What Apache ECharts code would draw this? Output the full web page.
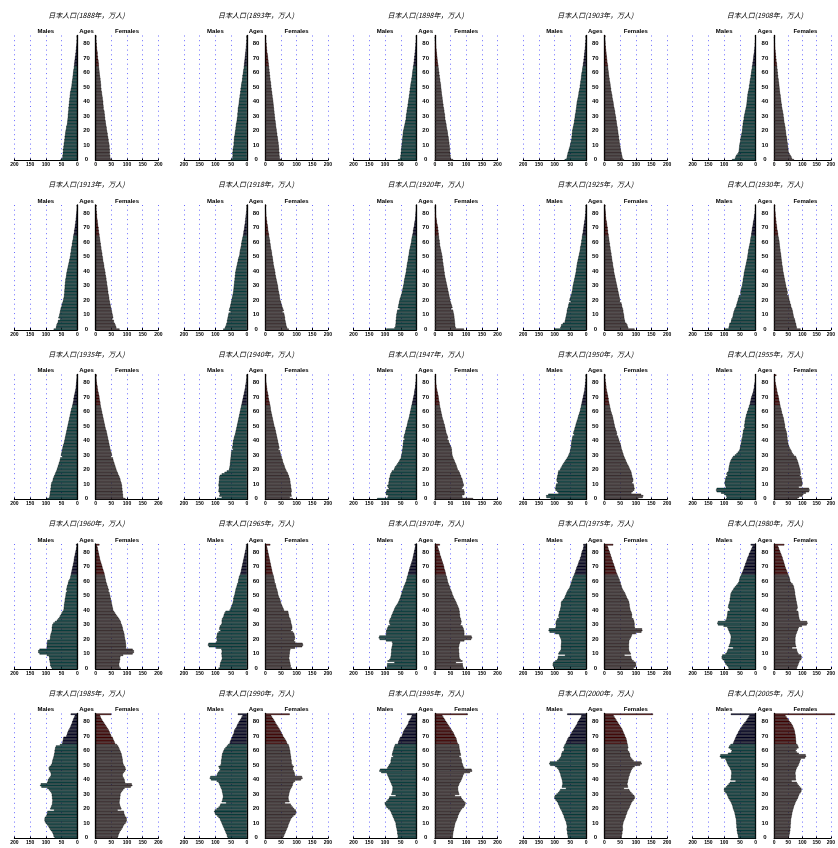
<!DOCTYPE html>
<html><head><meta charset="utf-8">
<script src="https://cdn.jsdelivr.net/npm/echarts@6/dist/echarts.min.js"></script>
<style>html,body{margin:0;padding:0;background:#fff;overflow:hidden}#c{width:838px;height:848px}</style>
</head><body><div id="c"></div><script>
const years = [1888,1893,1898,1903,1908,1913,1918,1920,1925,1930,1935,1940,1947,1950,1955,1960,1965,1970,1975,1980,1985,1990,1995,2000,2005];
const ageLabels = ['0','1','2','3','4','5','6','7','8','9','10','11','12','13','14','15','16','17','18','19','20','21','22','23','24','25','26','27','28','29','30','31','32','33','34','35','36','37','38','39','40','41','42','43','44','45','46','47','48','49','50','51','52','53','54','55','56','57','58','59','60','61','62','63','64','65','66','67','68','69','70','71','72','73','74','75','76','77','78','79','80','81','82','83','84','85'];
const xTicks = [0,50,100,150,200];

const m1888 = [53,48,47,47,46,46,45,46,44,44, 43,43,42,41,41,40,40,39,38,38, 37,36,35,35,33,32,32,31,31,30, 30,30,29,29,28,28,28,27,27,26, 26,25,25,24,24,23,23,22,21,20, 19,18,18,17,17,16,15,15,14,14, 13,13,12,11,11,10,10,9,9,8, 8,7,6,6,5,5,4,4,3,3, 2,2,2,1,1,2];
const f1888 = [52,47,46,46,45,45,45,45,44,44, 44,43,42,41,41,40,39,38,38,37, 36,35,35,34,33,32,32,31,30,30, 29,29,28,28,27,25,25,25,24,24, 24,23,22,22,21,20,20,19,18,18, 17,17,17,16,16,15,15,14,13,13, 12,12,11,11,10,10,10,9,9,8, 7,7,6,6,6,5,4,4,3,3, 3,2,2,1,1,2];
const m1893 = [51,46,46,45,46,46,45,45,44,43, 42,42,42,41,41,41,40,39,38,38, 37,36,36,35,35,34,33,32,32,31, 30,30,30,29,29,29,28,27,26,26, 25,25,24,23,23,22,21,21,20,20, 19,18,18,17,16,15,15,14,14,13, 12,12,11,10,10,9,9,8,8,7, 7,6,6,5,5,4,4,3,3,3, 2,2,2,1,1,2];
const f1893 = [52,46,46,45,45,45,44,44,44,43, 43,42,42,41,40,40,39,38,38,37, 36,36,35,34,34,33,33,32,31,31, 30,30,29,29,28,28,27,27,26,26, 25,25,24,23,23,22,22,21,20,20, 19,19,18,18,17,16,16,15,15,14, 14,13,13,12,12,11,11,10,10,9, 9,8,8,7,6,6,5,5,4,4, 4,3,3,2,2,3];
const m1898 = [59,52,51,51,50,50,49,49,48,48, 47,47,46,46,45,45,44,44,43,43, 42,41,40,39,38,37,36,35,34,34, 33,33,32,31,31,30,29,28,28,27, 26,26,25,24,24,23,22,22,21,21, 20,19,19,18,17,16,16,15,14,14, 13,13,12,11,11,10,9,9,8,8, 7,7,6,6,5,5,4,4,3,3, 3,2,2,1,1,2];
const f1898 = [58,51,50,50,49,49,48,48,48,47, 47,46,46,45,44,44,43,42,41,41, 40,39,38,37,37,36,35,34,33,33, 32,32,31,30,30,29,28,27,27,26, 25,25,24,24,23,22,22,21,21,20, 20,19,19,18,17,17,16,15,15,14, 14,13,12,12,11,11,10,9,9,8, 8,7,7,6,6,5,5,4,4,4, 3,3,2,2,1,3];
const m1903 = [68,62,61,60,59,58,56,55,54,52, 51,50,49,48,47,46,46,45,45,44, 44,43,42,41,40,39,38,38,37,36, 36,35,34,33,33,32,31,31,30,30, 29,28,27,26,25,24,24,23,22,21, 20,20,19,18,18,17,16,16,15,15, 14,13,12,12,11,10,10,9,8,8, 7,7,6,6,5,5,4,4,3,3, 3,2,2,1,1,2];
const f1903 = [62,58,57,56,55,54,53,52,51,51, 50,49,48,48,47,46,46,45,44,44, 43,42,42,41,40,39,39,38,37,37, 36,35,34,34,33,32,31,30,29,29, 28,27,26,25,25,24,23,22,21,21, 20,19,19,18,17,16,16,15,14,14, 13,13,12,12,11,11,10,9,9,8, 8,7,7,6,6,5,5,4,4,3, 3,3,2,2,1,3];
const m1908 = [75,66,64,62,58,55,54,53,53,52, 52,51,50,49,49,48,47,46,45,44, 43,43,42,42,41,41,40,39,38,38, 37,36,35,34,33,32,31,30,29,29, 28,28,27,27,26,26,25,24,23,22, 21,21,20,19,19,18,17,16,16,15, 14,14,13,12,12,11,10,10,9,8, 8,7,7,6,5,5,4,4,3,3, 3,2,2,1,1,2];
const f1908 = [70,63,61,58,55,52,51,50,50,49, 48,48,47,46,46,45,44,43,42,42, 41,40,40,39,38,37,36,35,35,34, 33,33,32,31,30,29,28,27,27,26, 25,25,24,23,23,22,21,20,20,19, 19,18,18,17,16,16,15,14,14,13, 13,12,12,11,11,10,10,9,8,8, 7,7,6,6,5,5,4,4,3,3, 3,2,2,2,1,3];
const m1913 = [75,68,67,66,64,62,61,55,60,58, 57,56,55,54,53,52,50,49,48,46, 45,44,43,42,42,41,41,41,40,40, 40,39,39,38,38,37,36,35,35,34, 33,32,31,30,29,28,27,26,25,24, 23,22,22,21,20,20,19,18,17,17, 16,15,14,13,13,12,11,10,10,9, 8,8,7,6,6,5,5,4,4,3, 3,2,2,1,1,2];
const f1913 = [76,66,65,63,61,58,58,53,56,55, 54,53,52,51,50,49,48,47,46,45, 44,43,43,42,41,40,40,39,38,38, 37,36,36,35,34,34,33,32,31,31, 30,29,28,27,27,26,25,24,23,23, 22,21,21,20,19,18,18,17,16,16, 15,14,14,13,12,12,11,10,10,9, 9,8,7,7,6,6,5,4,4,4, 3,3,2,2,1,3];
const m1918 = [75,70,68,66,65,63,63,62,61,60, 59,58,52,57,56,54,53,52,51,50, 49,48,47,46,45,44,43,43,42,42, 41,41,40,40,39,39,38,38,37,37, 36,35,34,33,32,31,30,29,28,27, 25,24,23,23,22,21,20,19,18,18, 17,16,15,14,13,12,11,11,10,9, 8,8,7,6,6,5,5,4,4,3, 3,2,2,1,1,2];
const f1918 = [75,70,68,67,66,65,64,63,63,62, 61,60,55,59,57,55,54,52,51,50, 48,47,46,46,45,44,43,42,41,41, 40,39,38,37,36,35,34,33,32,32, 31,30,29,28,27,26,26,25,24,24, 23,22,21,21,20,19,18,17,17,16, 15,15,14,13,12,12,11,10,9,9, 8,8,7,6,6,5,4,4,3,3, 3,2,2,1,1,3];
const m1920 = [96,70,67,67,66,66,66,65,65,64, 64,63,62,61,54,59,58,57,56,55, 54,53,51,50,48,47,46,45,44,43, 42,41,40,40,39,38,37,36,35,34, 33,33,32,31,31,30,29,28,27,27, 26,25,24,24,23,22,21,20,19,18, 17,16,16,15,14,13,12,11,11,10, 9,8,7,7,6,5,4,4,3,3, 3,2,2,1,1,2];
const f1920 = [93,67,65,65,64,64,63,63,62,62, 61,60,59,58,52,56,55,53,52,50, 49,48,47,46,45,44,43,42,41,40, 39,38,37,36,35,34,33,32,31,31, 30,29,29,28,27,27,26,25,25,24, 24,23,22,21,20,19,18,17,16,16, 15,15,14,13,13,12,12,11,11,10, 10,9,8,7,6,6,5,4,4,3, 3,3,2,2,1,3];
const m1925 = [100,82,80,79,74,68,67,66,65,64, 63,62,61,61,60,58,57,56,55,49, 53,52,50,49,47,46,45,44,43,43, 42,41,40,39,38,37,36,35,34,33, 32,32,31,30,30,29,28,27,26,25, 24,23,22,21,20,19,19,18,17,16, 15,15,14,13,13,12,11,10,10,9, 8,8,7,6,6,5,4,4,3,3, 2,2,2,1,1,2];
const f1925 = [96,76,74,73,70,66,65,64,63,63, 62,61,60,60,59,57,56,55,54,49, 50,49,48,47,46,45,44,43,42,41, 40,39,38,37,36,35,34,33,32,31, 30,30,29,28,27,27,26,25,24,24, 23,22,22,21,20,19,19,18,17,17, 16,15,15,14,13,13,12,11,11,10, 10,9,8,8,7,6,5,5,4,4, 4,3,3,2,2,3];
const m1930 = [97,86,85,84,83,79,78,77,74,73, 72,71,70,68,67,64,62,61,60,58, 57,56,54,53,47,49,48,47,46,45, 43,43,42,41,41,40,39,38,38,37, 36,35,34,33,32,31,30,29,28,27, 26,26,25,24,24,23,22,21,20,19, 18,17,17,16,15,14,14,13,12,12, 11,10,9,9,8,7,6,5,5,4, 3,3,2,2,1,2];
const f1930 = [93,80,79,78,77,75,74,73,70,69, 68,67,66,65,64,61,60,59,57,56, 54,53,52,51,46,48,47,46,45,43, 42,41,40,39,38,37,36,35,34,33, 32,31,31,30,29,28,28,27,26,26, 25,25,24,23,22,22,21,20,20,19, 19,18,17,16,15,14,14,13,12,11, 10,10,9,8,8,7,7,6,5,5, 5,4,3,3,2,4];
const m1935 = [96,89,88,87,87,86,85,85,84,84, 83,82,79,78,77,75,73,71,69,67, 65,64,62,61,59,58,56,55,54,48, 52,51,50,49,48,47,46,45,43,42, 41,40,39,38,37,36,35,34,33,32, 31,30,29,28,27,26,25,24,23,22, 21,20,19,17,16,15,14,13,12,12, 11,10,9,8,7,6,5,5,4,4, 3,3,2,2,1,2];
const f1935 = [95,88,87,87,86,86,85,85,84,84, 83,82,80,79,78,76,74,72,70,68, 66,65,63,62,60,59,57,56,55,49, 52,51,50,48,47,46,45,44,43,42, 41,40,39,38,37,36,35,34,32,31, 30,29,28,27,26,25,24,23,22,21, 20,19,18,17,16,15,15,14,13,12, 12,11,10,9,8,7,6,6,5,4, 3,3,2,2,2,3];
const m1940 = [95,80,88,86,87,90,90,89,89,90, 90,89,89,88,88,88,86,80,71,64, 57,56,55,54,54,53,53,52,52,51, 51,50,50,49,44,47,46,45,45,44, 44,42,41,40,38,37,36,35,34,33, 32,31,30,29,28,27,26,25,24,23, 22,21,20,19,18,17,16,15,14,13, 12,11,10,9,8,7,6,5,5,4, 3,3,2,2,1,2];
const f1940 = [88,78,84,83,83,84,84,83,82,82, 81,80,80,79,78,76,75,73,71,68, 66,64,62,61,59,57,56,55,53,52, 50,49,48,47,42,45,44,43,42,41, 40,39,38,37,36,35,34,33,32,31, 29,28,27,26,25,24,23,22,21,20, 19,18,17,17,16,15,14,13,12,11, 10,10,9,8,7,6,6,5,4,4, 3,3,2,2,2,3];
const m1947 = [125,92,90,97,98,96,95,88,91,93, 89,89,88,87,87,85,84,83,80,78, 72,70,68,64,61,58,55,53,50,49, 48,47,46,46,45,44,44,43,43,42, 42,38,41,40,39,37,36,35,34,33, 31,30,29,28,27,25,24,23,22,21, 20,19,18,17,16,15,14,13,12,11, 10,9,8,7,7,6,5,4,4,3, 3,2,2,1,1,2];
const f1947 = [122,88,87,94,95,94,93,86,89,92, 92,90,89,88,87,84,83,81,79,77, 73,72,70,69,67,65,63,61,59,57, 56,55,55,54,54,53,51,49,47,45, 44,40,42,41,39,37,36,35,34,33, 32,31,29,28,27,25,24,23,22,21, 20,19,18,17,16,15,15,14,13,12, 12,11,10,9,8,7,6,5,5,4, 3,3,2,2,2,3];
const m1950 = [113,126,127,120,88,92,97,98,97,96, 95,90,93,94,93,92,91,90,89,88, 83,81,78,76,73,70,67,64,61,58, 56,54,52,51,50,49,48,48,47,47, 46,45,44,43,38,41,40,38,37,36, 34,33,32,30,29,27,26,25,23,22, 20,19,18,17,16,15,14,13,12,11, 10,9,8,7,6,5,5,4,4,3, 3,2,2,1,1,2];
const f1950 = [108,122,124,117,86,90,95,96,95,94, 93,88,91,92,91,89,88,87,86,85, 82,80,78,76,73,71,69,67,65,63, 61,60,58,57,55,54,53,52,51,49, 47,46,44,43,39,40,39,37,36,34, 33,32,31,30,29,28,27,26,24,23, 21,20,19,18,17,16,15,14,13,13, 12,11,10,9,8,7,6,6,5,5, 4,3,3,2,2,3];
const m1955 = [95,92,94,100,110,124,126,124,95,97, 98,99,98,97,96,95,90,93,91,87, 86,86,85,84,83,82,80,78,75,72, 66,61,57,53,51,50,49,48,47,46, 45,45,43,42,42,41,40,40,38,35, 37,36,35,35,34,33,32,31,30,28, 27,25,24,22,21,19,18,17,16,15, 14,12,11,9,8,7,6,5,5,4, 3,2,2,1,1,2];
const f1955 = [82,88,100,103,112,123,125,123,87,98, 100,100,99,98,97,96,91,94,93,93, 92,91,89,88,86,85,83,81,79,77, 70,66,63,61,58,55,53,51,50,49, 48,47,47,46,46,45,44,42,41,38, 39,38,37,36,35,34,33,31,30,28, 27,26,25,23,22,21,20,19,18,17, 16,15,13,12,11,10,9,8,7,6, 5,4,4,3,2,8];
const m1960 = [81,84,86,86,87,88,89,89,90,97, 120,124,124,120,97,97,97,96,96,95, 87,86,86,85,84,82,81,81,81,80, 79,76,71,65,61,57,55,52,50,47, 44,43,43,42,42,41,40,40,39,38, 37,37,36,33,35,34,33,32,30,29, 28,25,23,22,21,20,19,18,17,16, 15,14,13,12,11,11,10,9,8,7, 6,5,4,3,2,4];
const f1960 = [80,76,75,75,76,77,78,78,79,88, 118,122,122,118,97,97,97,96,96,95, 94,93,92,92,91,90,88,87,86,85, 83,81,80,78,75,72,68,65,62,59, 56,55,54,53,52,51,50,49,48,47, 46,45,44,41,42,40,39,37,36,34, 33,32,31,30,29,28,27,25,24,22, 21,20,18,17,15,14,13,12,11,10, 9,8,7,6,5,12];
const m1965 = [90,86,86,85,84,82,80,79,80,80, 81,80,80,81,98,121,124,122,98,95, 96,97,96,95,94,90,84,88,87,86, 82,80,80,80,79,76,74,73,71,68, 55,52,51,48,47,45,44,43,43,42, 40,39,38,37,36,35,33,32,31,28, 28,27,26,25,23,21,20,19,18,17, 16,15,14,13,12,11,10,9,8,7, 6,5,4,3,3,3];
const f1965 = [85,81,81,80,79,78,77,76,77,77, 78,78,79,80,95,118,121,119,96,92, 94,95,94,93,92,88,82,86,86,86, 84,83,82,81,80,77,76,75,74,73, 60,58,56,54,52,50,49,48,46,44, 42,41,40,39,38,36,35,34,33,30, 30,29,28,27,26,24,23,22,21,20, 19,18,17,16,15,14,13,12,11,10, 9,8,7,6,5,16];
const m1970 = [97,94,93,93,70,92,86,83,82,81, 81,80,80,80,79,78,77,76,78,97, 117,120,118,97,96,97,96,94,92,90, 84,86,87,86,84,81,80,78,76,74, 72,70,68,65,62,59,57,55,53,51, 50,48,47,46,44,42,41,39,37,35, 33,32,31,30,28,27,26,24,23,22, 20,19,17,16,14,13,12,11,10,9, 8,7,6,5,4,6];
const f1970 = [93,90,89,89,67,88,82,79,78,78, 78,77,77,77,76,77,78,79,81,94, 116,119,117,94,94,94,93,92,90,88, 82,84,85,84,83,81,80,80,79,79, 78,77,75,73,71,69,67,65,62,60, 58,56,55,53,51,49,48,46,44,42, 41,40,39,38,36,35,34,33,31,30, 29,28,26,25,23,22,20,19,17,16, 15,13,12,10,9,16];
const m1975 = [98,104,106,106,104,98,92,90,89,67, 88,86,82,80,80,80,80,79,79,79, 80,82,84,86,98,116,119,118,97,96, 96,97,96,94,92,86,88,87,86,85, 83,82,81,80,80,80,78,74,70,68, 66,64,62,60,57,54,52,50,49,47, 46,44,43,41,39,37,35,34,32,31, 29,27,25,24,22,20,19,17,16,15, 14,12,10,9,8,9];
const f1975 = [93,99,101,101,99,93,88,86,85,64, 84,82,79,78,78,78,78,78,79,79, 81,84,86,88,100,118,121,120,97,96, 96,96,95,94,92,87,88,88,87,85, 83,82,81,80,80,79,78,76,73,71, 69,67,65,62,59,57,55,54,52,51, 49,48,46,44,42,40,38,37,35,34, 32,31,29,27,26,24,23,21,20,18, 17,15,13,12,10,28];
const m1980 = [86,88,92,96,98,100,105,108,108,106, 96,92,90,88,72,86,84,82,81,80, 80,79,79,80,82,84,86,88,90,102, 120,122,120,96,93,92,91,90,90,89, 82,85,88,87,86,84,83,82,82,81, 80,80,78,76,72,70,66,62,58,55, 53,52,51,49,47,45,43,41,39,38, 36,34,33,31,29,28,26,24,22,21, 18,16,14,12,10,16];
const f1980 = [80,82,84,86,88,90,95,97,97,95, 86,83,81,80,64,78,76,75,75,75, 75,75,76,77,79,81,83,85,87,98, 115,118,116,92,89,88,87,86,86,85, 79,82,83,82,81,80,79,78,77,76, 75,74,74,73,72,71,70,68,65,60, 57,56,55,53,51,49,47,45,43,41, 39,38,36,35,33,31,30,28,26,24, 22,20,18,16,14,36];
const m1985 = [72,75,76,78,80,84,87,90,92,96, 100,103,104,104,103,99,97,96,95,74, 86,84,82,80,80,79,79,80,80,81, 81,83,86,90,95,114,118,116,96,94, 93,90,86,84,84,85,88,90,91,88, 84,81,80,79,78,76,75,74,73,72, 72,71,70,68,55,48,47,46,45,44, 35,33,32,30,28,25,23,21,19,17, 16,14,12,10,8,21];
const f1985 = [70,72,73,75,77,80,83,86,88,91, 95,98,99,99,98,94,92,91,90,70, 82,80,78,77,76,76,77,78,78,79, 79,81,84,88,92,112,117,115,94,93, 92,90,87,86,87,90,94,96,95,93, 90,88,87,86,86,85,84,83,82,80, 78,76,74,72,68,62,60,58,56,54, 50,48,46,44,42,39,36,33,30,27, 24,21,18,16,14,50];
const m1990 = [61,63,64,66,68,70,72,74,76,78, 80,82,84,86,90,94,100,102,104,102, 96,90,86,84,66,80,78,77,76,76, 77,78,79,80,82,84,86,88,90,96, 114,118,116,96,94,92,88,85,88,90, 84,82,82,82,81,80,80,79,78,76, 74,72,68,64,60,55,54,52,50,48, 46,44,42,41,40,37,34,32,30,27, 25,22,19,17,14,29];
const f1990 = [57,59,61,63,65,67,69,71,73,74, 76,78,80,82,86,90,96,98,99,97, 92,88,84,81,63,77,75,74,74,75, 76,77,78,80,82,85,87,88,90,95, 114,119,117,95,94,93,91,88,89,91, 87,84,84,84,83,82,82,81,80,80, 79,78,77,76,74,70,68,66,63,60, 57,55,52,50,48,45,42,39,36,33, 31,28,25,22,19,78];
const m1995 = [60,59,60,61,61,62,63,64,65,66, 66,68,70,72,74,76,78,80,82,85, 90,95,98,100,101,96,92,88,86,66, 80,78,77,76,76,76,78,80,82,84, 86,88,90,92,94,112,118,116,93,90, 88,84,82,82,81,80,74,78,77,76, 74,73,72,70,68,59,58,56,54,52, 47,45,44,42,40,37,34,31,28,26, 25,22,19,17,15,30];
const f1995 = [57,57,58,58,59,60,61,62,63,64, 65,67,69,71,73,74,76,78,81,83, 87,92,95,97,98,94,90,86,84,64, 78,76,75,74,74,74,76,78,80,83, 85,87,89,90,93,112,119,117,94,91, 90,88,86,86,85,83,78,83,82,81, 80,79,78,78,77,73,71,70,69,67, 64,62,60,57,54,51,48,45,42,39, 36,33,30,27,24,105];
const m2000 = [58,58,59,60,60,61,62,61,61,62, 63,64,66,68,70,71,73,75,77,79, 82,84,86,88,90,93,97,100,101,99, 94,89,85,82,64,77,76,75,75,76, 77,78,80,81,82,84,86,88,92,98, 114,117,115,92,87,83,80,79,78,76, 71,70,72,70,68,65,63,61,59,56, 52,50,47,45,42,39,36,33,30,28, 26,23,20,17,15,60];
const f2000 = [55,55,56,57,57,58,59,58,58,59, 60,61,63,65,67,68,70,72,73,75, 78,80,82,84,86,89,93,96,97,95, 90,86,82,79,62,75,74,73,74,75, 76,77,78,80,81,83,85,87,90,96, 114,119,117,93,89,85,82,82,81,79, 75,74,76,75,74,73,72,71,70,68, 66,64,62,60,58,56,53,50,47,44, 41,38,35,32,29,155];
const m2005 = [55,56,57,58,59,60,60,61,61,61, 62,62,62,63,64,65,66,67,68,70, 72,73,74,76,78,80,83,86,88,90, 92,96,100,101,100,94,90,86,82,64, 80,78,78,78,77,77,78,80,82,85, 88,90,92,94,96,110,114,112,88,78, 76,80,86,84,80,72,70,68,66,64, 62,60,57,55,52,49,46,43,40,36, 32,29,26,23,20,79];
const f2005 = [52,53,54,55,56,57,57,58,58,58, 59,59,59,60,61,62,63,64,65,66, 68,69,71,73,75,77,80,83,85,87, 89,93,96,97,96,91,87,83,80,62, 77,76,76,76,75,75,77,78,80,83, 86,88,90,92,94,109,113,111,87,80, 76,80,86,85,82,78,78,77,77,76, 76,75,74,73,72,70,68,66,63,60, 55,52,48,44,40,215];

const maleSets = [m1888,m1893,m1898,m1903,m1908,m1913,m1918,m1920,m1925,m1930,m1935,m1940,m1947,m1950,m1955,m1960,m1965,m1970,m1975,m1980,m1985,m1990,m1995,m2000,m2005];
const femaleSets = [f1888,f1893,f1898,f1903,f1908,f1913,f1918,f1920,f1925,f1930,f1935,f1940,f1947,f1950,f1955,f1960,f1965,f1970,f1975,f1980,f1985,f1990,f1995,f2000,f2005];

const chart = echarts.init(document.getElementById('c'), null, {renderer: 'canvas'});
const PX = 169.6, PY = 169.5;
const grids = [], xAxes = [], yAxes = [], series = [], graphics = [];
const labelFont = 'Liberation Sans';
const splitStyle = {show: true, lineStyle: {type: [1, 3.7], color: '#6b6bff', width: 1}};

years.forEach((yr, k) => {
  const r = Math.floor(k / 5), c = k % 5;
  const x0 = c * PX, y0 = r * PY;
  const top = y0 + 35.5, h = 125;
  const gm = grids.length;
  grids.push({left: x0 + 14.3, top: top, width: 63, height: h});
  grids.push({left: x0 + 95.7, top: top, width: 62.6, height: h});
  const xCommon = {
    type: 'value', min: xTicks[0], max: xTicks[xTicks.length - 1], interval: 50,
    axisLine: {show: true, onZero: false, lineStyle: {color: '#000', width: 1}},
    axisTick: {show: true, length: 2, inside: true, lineStyle: {color: '#000', width: 1}},
    axisLabel: {fontSize: 5, fontWeight: 'bold', fontFamily: labelFont, color: '#000', margin: 2},
    splitLine: splitStyle
  };
  xAxes.push(Object.assign({gridIndex: gm, inverse: true}, xCommon));
  xAxes.push(Object.assign({gridIndex: gm + 1}, xCommon));
  yAxes.push({
    gridIndex: gm, type: 'category', data: ageLabels, position: 'right',
    axisLine: {show: true, lineStyle: {color: '#000', width: 1.3}},
    axisTick: {show: false},
    axisLabel: {show: true, align: 'center', margin: 9.2, fontSize: 6, fontWeight: 'bold', fontFamily: labelFont, color: '#000',
      interval: (i) => i % 10 === 0 && i <= 80},
    splitLine: {show: false}
  });
  yAxes.push({
    gridIndex: gm + 1, type: 'category', data: ageLabels, position: 'left',
    axisLine: {show: true, lineStyle: {color: '#000', width: 1.3}},
    axisTick: {show: false}, axisLabel: {show: false}, splitLine: {show: false}
  });
  series.push({
    type: 'bar', xAxisIndex: gm, yAxisIndex: gm, data: maleSets[k],
    barCategoryGap: '0%', clip: false, silent: true,
    itemStyle: {borderColor: '#000', borderWidth: 0.45,
      color: (p) => p.dataIndex >= 65 ? '#000036' : '#0d6565'}
  });
  series.push({
    type: 'bar', xAxisIndex: gm + 1, yAxisIndex: gm + 1, data: femaleSets[k],
    barCategoryGap: '0%', clip: false, silent: true,
    itemStyle: {borderColor: '#000', borderWidth: 0.45,
      color: (p) => p.dataIndex >= 65 ? '#680000' : '#655153'}
  });
  const cx = x0 + 86.5;
  const txt = (x, y, text, font) => graphics.push({type: 'text', x: x, y: y, silent: true,
    style: {text: text, font: font, fill: '#000', align: 'center', verticalAlign: 'middle', textAlign: 'center', textVerticalAlign: 'middle'}});
  txt(cx, y0 + 15, '日本人口(' + yr + '年，万人)', 'italic 7px "Noto Sans CJK JP"');
  txt(x0 + 45.8, y0 + 31.5, 'Males', 'bold 6px "Liberation Sans"');
  txt(cx, y0 + 31.5, 'Ages', 'bold 6px "Liberation Sans"');
  txt(x0 + 127, y0 + 31.5, 'Females', 'bold 6px "Liberation Sans"');
});

chart.setOption({
  animation: false,
  backgroundColor: '#fff',
  grid: grids, xAxis: xAxes, yAxis: yAxes, series: series,
  graphic: {elements: graphics}
});
</script></body></html>
